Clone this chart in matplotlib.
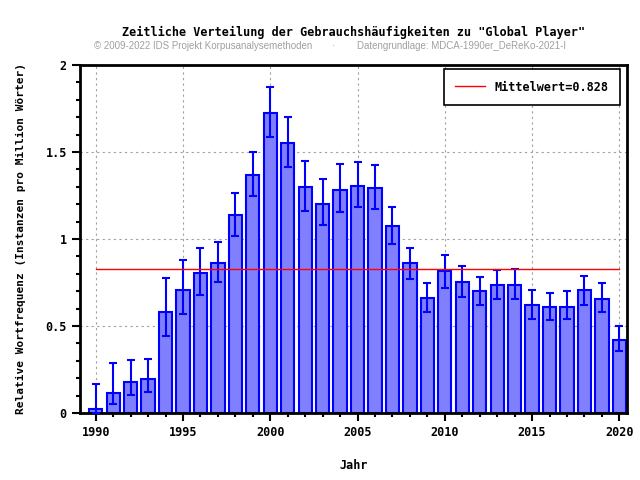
import matplotlib
matplotlib.use("Agg")
import matplotlib.pyplot as plt
from matplotlib.ticker import MultipleLocator

# Jahre und relative Worthäufigkeiten
jahre = list(range(1990, 2021))
werte = [0.025, 0.117, 0.18, 0.197, 0.582, 0.709, 0.806, 0.864, 1.136, 1.37,
         1.726, 1.553, 1.30, 1.203, 1.283, 1.306, 1.295, 1.077, 0.86, 0.663,
         0.814, 0.751, 0.699, 0.737, 0.737, 0.623, 0.611, 0.611, 0.705, 0.657,
         0.421]
fehler_oben = [0.165, 0.29, 0.305, 0.31, 0.776, 0.88, 0.95, 0.985, 1.264, 1.50,
               1.875, 1.70, 1.45, 1.347, 1.43, 1.444, 1.425, 1.186, 0.95, 0.749,
               0.91, 0.847, 0.783, 0.824, 0.83, 0.709, 0.692, 0.699, 0.789, 0.749,
               0.502]
fehler_unten = [0.0, 0.05, 0.105, 0.12, 0.44, 0.57, 0.68, 0.75, 1.02, 1.247,
                1.586, 1.414, 1.16, 1.08, 1.155, 1.186, 1.172, 0.973, 0.77, 0.58,
                0.718, 0.667, 0.62, 0.655, 0.655, 0.54, 0.534, 0.538, 0.62, 0.58,
                0.356]
mittelwert = 0.828

err_lo = [w - u for w, u in zip(werte, fehler_unten)]
err_hi = [o - w for w, o in zip(werte, fehler_oben)]

mono = "DejaVu Sans Mono"

fig = plt.figure(figsize=(6.4, 4.8), dpi=100)
ax = fig.add_axes([0.125, 0.1396, 0.855, 0.725])

ax.bar(jahre, werte, width=0.76, color="#8080ff", edgecolor="#0000ff", linewidth=1.5, zorder=2)
ax.errorbar(jahre, werte, yerr=[err_lo, err_hi], fmt="none", ecolor="#0000ff",
            elinewidth=1.5, capsize=3, capthick=1.5, zorder=3)
ax.plot([jahre[0], jahre[-1]], [mittelwert, mittelwert], color="red", linewidth=1,
        label="Mittelwert=0.828", zorder=4)

ax.set_xlim(1989.1, 2020.45)
ax.set_ylim(0, 2)
ax.xaxis.set_major_locator(MultipleLocator(5))
ax.xaxis.set_minor_locator(MultipleLocator(1))
ax.yaxis.set_minor_locator(MultipleLocator(0.1))
ax.set_yticks([0, 0.5, 1, 1.5, 2])
ax.set_yticklabels(["0", "0.5", "1", "1.5", "2"])
ax.tick_params(which="major", direction="out", length=6, width=1.5, labelsize=8.5)
ax.tick_params(which="minor", direction="out", length=3, width=1.5)
for lab in ax.get_xticklabels() + ax.get_yticklabels():
    lab.set_fontfamily(mono)
    lab.set_fontweight("bold")
ax.grid(True, which="major", color="#a0a0a0", linestyle=(0, (2, 3)), linewidth=0.8, zorder=0)
for sp in ax.spines.values():
    sp.set_linewidth(2)

ax.set_xlabel("Jahr", fontfamily=mono, fontweight="bold", fontsize=8.5, labelpad=14)
ax.set_ylabel("Relative Wortfrequenz (Instanzen pro Million Wörter)", fontfamily=mono,
              fontweight="bold", fontsize=8, labelpad=14)

leg = ax.legend(loc="upper right", prop={"family": mono, "weight": "bold", "size": 8.5},
                fancybox=False, framealpha=1, edgecolor="black", borderpad=1.0,
                handlelength=2.5, borderaxespad=0, bbox_to_anchor=(0.987, 0.989))
leg.get_frame().set_linewidth(1.2)

fig.text(0.553, 0.925, 'Zeitliche Verteilung der Gebrauchshäufigkeiten zu "Global Player"',
         ha="center", fontfamily=mono, fontweight="bold", fontsize=8.5)
fig.text(0.147, 0.897, "© 2009-2022 IDS Projekt Korpusanalysemethoden", ha="left",
         fontfamily="Liberation Sans", fontsize=7, color="#a0a0a0")
fig.text(0.518, 0.897, "·", ha="left", fontfamily="Liberation Sans", fontsize=7, color="#a0a0a0")
fig.text(0.558, 0.897, "Datengrundlage: MDCA-1990er_DeReKo-2021-I", ha="left",
         fontfamily="Liberation Sans", fontsize=7, color="#a0a0a0")

fig.savefig("out.png", dpi=100)
